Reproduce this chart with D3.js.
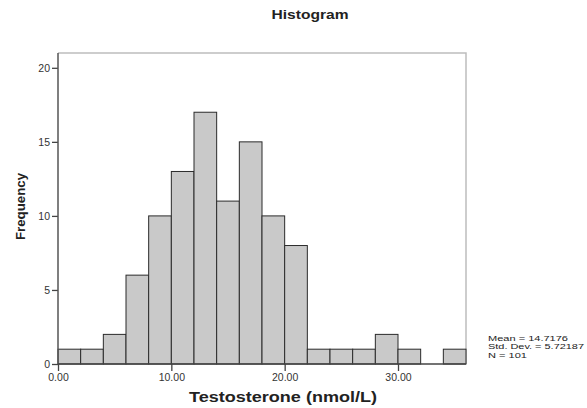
<!DOCTYPE html>
<html>
<head>
<meta charset="utf-8">
<script src="https://cdn.jsdelivr.net/npm/d3@7"></script>
<style>
  body { margin: 0; background: #fff; }
  svg { display: block; font-family: Arial, "Liberation Sans", sans-serif; }
  .tick text { fill: #333; }
</style>
</head>
<body>
<div id="chart"></div>
<script>
// data (bin width 2)
var binStarts = [0, 2, 4, 6, 8, 10, 12, 14, 16, 18, 20, 22, 24, 26, 28, 30, 32, 34];
var counts    = [1, 1, 2, 6, 10, 13, 17, 11, 15, 10, 8, 1, 1, 1, 2, 1, 0, 1];
var binWidth = 2;
var xTicks = [0, 10, 20, 30];
var yTicks = [0, 5, 10, 15, 20];
var statLines = ["Mean = 14.7176", "Std. Dev. = 5.72187", "N = 101"];

(function() {
  var svgWidth = 587, svgHeight = 408;
  var svg = d3.select("#chart").append("svg")
      .attr("width", svgWidth)
      .attr("height", svgHeight);

  var margin = {left: 58, right: 466, top: 53, bottom: 364};

  var x = d3.scaleLinear().domain([0, 36]).range([margin.left, margin.right]);
  var y = d3.scaleLinear().domain([0, 21]).range([margin.bottom, margin.top]);

  var bins = binStarts.map(function(d, i) { return {x0: d, x1: d + binWidth, n: counts[i]}; });

  // frame (top / right in light grey)
  svg.append("path")
      .attr("d", "M" + margin.left + "," + margin.top + "H" + margin.right + "V" + margin.bottom)
      .attr("fill", "none")
      .attr("stroke", "#bdbdbd")
      .attr("stroke-width", 1.5);

  // bars
  svg.append("g").selectAll("rect")
    .data(bins.filter(function(d) { return d.n > 0; }))
    .enter().append("rect")
      .attr("x", function(d) { return x(d.x0); })
      .attr("width", function(d) { return x(d.x1) - x(d.x0); })
      .attr("y", function(d) { return y(d.n); })
      .attr("height", function(d) { return y(0) - y(d.n); })
      .attr("fill", "#c9c9c9")
      .attr("stroke", "#2b2b2b")
      .attr("stroke-width", 1);

  // axes
  var xAxis = svg.append("g")
      .attr("transform", "translate(0," + margin.bottom + ")")
      .call(d3.axisBottom(x).tickValues(xTicks).tickFormat(d3.format(".2f")).tickSize(7).tickPadding(3));
  xAxis.select(".domain").remove();
  xAxis.selectAll(".tick line").attr("stroke", "#444").attr("stroke-width", 1.3);
  xAxis.selectAll(".tick text").attr("font-size", 10.5);

  var yAxis = svg.append("g")
      .attr("transform", "translate(" + margin.left + ",0)")
      .call(d3.axisLeft(y).tickValues(yTicks).tickSize(6).tickPadding(2));
  yAxis.select(".domain").remove();
  yAxis.selectAll(".tick line").attr("stroke", "#444").attr("stroke-width", 1.3);
  yAxis.selectAll(".tick text").attr("font-size", 10.5);

  svg.append("line")
      .attr("x1", margin.left).attr("x2", margin.left)
      .attr("y1", margin.top).attr("y2", margin.bottom)
      .attr("stroke", "#555").attr("stroke-width", 1.5);
  svg.append("line")
      .attr("x1", margin.left).attr("x2", margin.right)
      .attr("y1", margin.bottom).attr("y2", margin.bottom)
      .attr("stroke", "#444").attr("stroke-width", 1.5);

  // title and labels
  svg.append("text")
      .attr("x", 310).attr("y", 19)
      .attr("text-anchor", "middle")
      .attr("font-weight", "bold")
      .attr("font-size", 12.5)
      .attr("fill", "#222")
      .attr("textLength", 77).attr("lengthAdjust", "spacingAndGlyphs")
      .text("Histogram");

  svg.append("text")
      .attr("x", 283).attr("y", 402)
      .attr("text-anchor", "middle")
      .attr("font-weight", "bold")
      .attr("font-size", 15.5)
      .attr("fill", "#222")
      .attr("textLength", 188).attr("lengthAdjust", "spacingAndGlyphs")
      .text("Testosterone (nmol/L)");

  svg.append("text")
      .attr("transform", "translate(25,206.5) rotate(-90)")
      .attr("text-anchor", "middle")
      .attr("font-weight", "bold")
      .attr("font-size", 13)
      .attr("fill", "#222")
      .attr("textLength", 67).attr("lengthAdjust", "spacingAndGlyphs")
      .text("Frequency");

  // summary statistics
  var statWidths = [80, 96, 39];
  svg.append("g").selectAll("text")
    .data(statLines)
    .enter().append("text")
      .attr("x", 488)
      .attr("y", function(d, i) { return 340.5 + i * 8.6; })
      .attr("font-size", 7.5)
      .attr("fill", "#222")
      .attr("textLength", function(d, i) { return statWidths[i]; })
      .attr("lengthAdjust", "spacingAndGlyphs")
      .text(function(d) { return d; });
})();
</script>
</body>
</html>
